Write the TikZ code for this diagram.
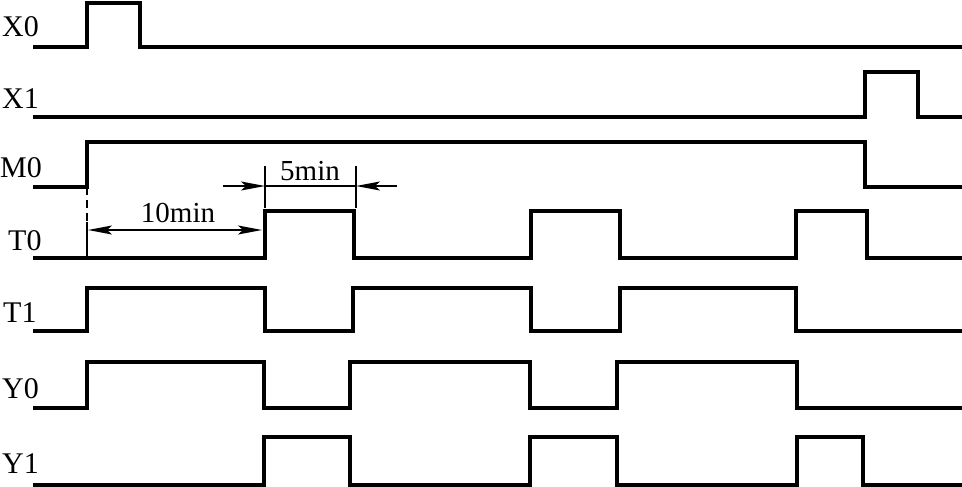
\documentclass[tikz,border=0pt]{standalone}
\usepackage{fontspec}
\setmainfont{Liberation Serif}
\usepackage{tikz}
\usetikzlibrary{
  arrows.meta,
  calc
}
\definecolor{wavecolor}{RGB}{0, 0, 0}
\definecolor{dimcolor}{RGB}{0, 0, 0}
\tikzset{
signal/.style={
  draw=wavecolor,
  line width=3.2pt,
  line join=miter
},
siglabel/.style={
  anchor=base west,
  inner sep=0pt,
  font=\fontsize{30}{36}\selectfont
},
dimlabel/.style={
  anchor=base,
  inner sep=0pt,
  font=\fontsize{29}{34}\selectfont
},
dimline/.style={
  draw=dimcolor,
  line width=1.5pt
},
dimarrow/.style={
  dimline,
  -{Stealth[length=24pt,width=9pt,inset=5pt]}
}
}

\begin{document}
\begin{tikzpicture}[x=1pt,y=-1pt]
  \useasboundingbox (0,0) rectangle (962,487);

  % signal names
  \node[siglabel] (lblX0) at (2,37)  {X0};
  \node[siglabel] (lblX1) at (2,108) {X1};
  \node[siglabel] (lblM0) at (0,177) {M0};
  \node[siglabel] (lblT0) at (8,250) {T0};
  \node[siglabel] (lblT1) at (3,322) {T1};
  \node[siglabel] (lblY0) at (2,398) {Y0};
  \node[siglabel] (lblY1) at (2,473) {Y1};

  % waveforms
  \draw[signal] (33,47) -- (87,47) -- (87,3) -- (140,3) -- (140,47) -- (962,47);
  \draw[signal] (33,117) -- (865,117) -- (865,72) -- (918,72) -- (918,117) -- (962,117);
  \draw[signal] (33,187) -- (87,187) -- (87,142) -- (865,142) -- (865,187) -- (962,187);
  \draw[signal] (33,258) -- (265,258) -- (265,211) -- (354,211) -- (354,258)
    -- (531,258) -- (531,211) -- (620,211) -- (620,258)
    -- (796,258) -- (796,211) -- (867,211) -- (867,258) -- (962,258);
  \draw[signal] (33,331) -- (87,331) -- (87,288) -- (265,288) -- (265,331)
    -- (353,331) -- (353,288) -- (531,288) -- (531,331)
    -- (620,331) -- (620,288) -- (796,288) -- (796,331) -- (962,331);
  \draw[signal] (33,408) -- (87,408) -- (87,362) -- (264,362) -- (264,408)
    -- (350,408) -- (350,362) -- (530,362) -- (530,408)
    -- (617,408) -- (617,362) -- (797,362) -- (797,408) -- (962,408);
  \draw[signal] (33,485) -- (264,485) -- (264,437) -- (350,437) -- (350,485)
    -- (530,485) -- (530,437) -- (617,437) -- (617,485)
    -- (797,485) -- (797,437) -- (863,437) -- (863,485) -- (962,485);

  % 10min dimension
  \coordinate (tenL) at (88,230);
  \coordinate (tenR) at (262,230);
  \coordinate (tenM) at ($(tenL)!0.5!(tenR)$);
  \draw[dimline, dashed, dash pattern=on 8pt off 5pt] (87,187) -- (87,222);
  \draw[dimline] (87,222) -- (87,258);
  \draw[dimarrow] (tenM) -- (tenL);
  \draw[dimarrow] (tenM) -- (tenR);
  \node[dimlabel] (lblTen) at (178,222) {10min};

  % 5min dimension
  \coordinate (fiveL) at (265,186);
  \coordinate (fiveR) at (356,186);
  \coordinate (fiveOutL) at (223,186);
  \coordinate (fiveOutR) at (397,186);
  \draw[dimline] (265,166) -- (265,208);
  \draw[dimline] (356,166) -- (356,208);
  \draw[dimline] (fiveL) -- (fiveR);
  \draw[dimarrow] (fiveOutL) -- (fiveL);
  \draw[dimarrow] (fiveOutR) -- (fiveR);
  \node[dimlabel] (lblFive) at (310,180) {5min};
\end{tikzpicture}
\end{document}
